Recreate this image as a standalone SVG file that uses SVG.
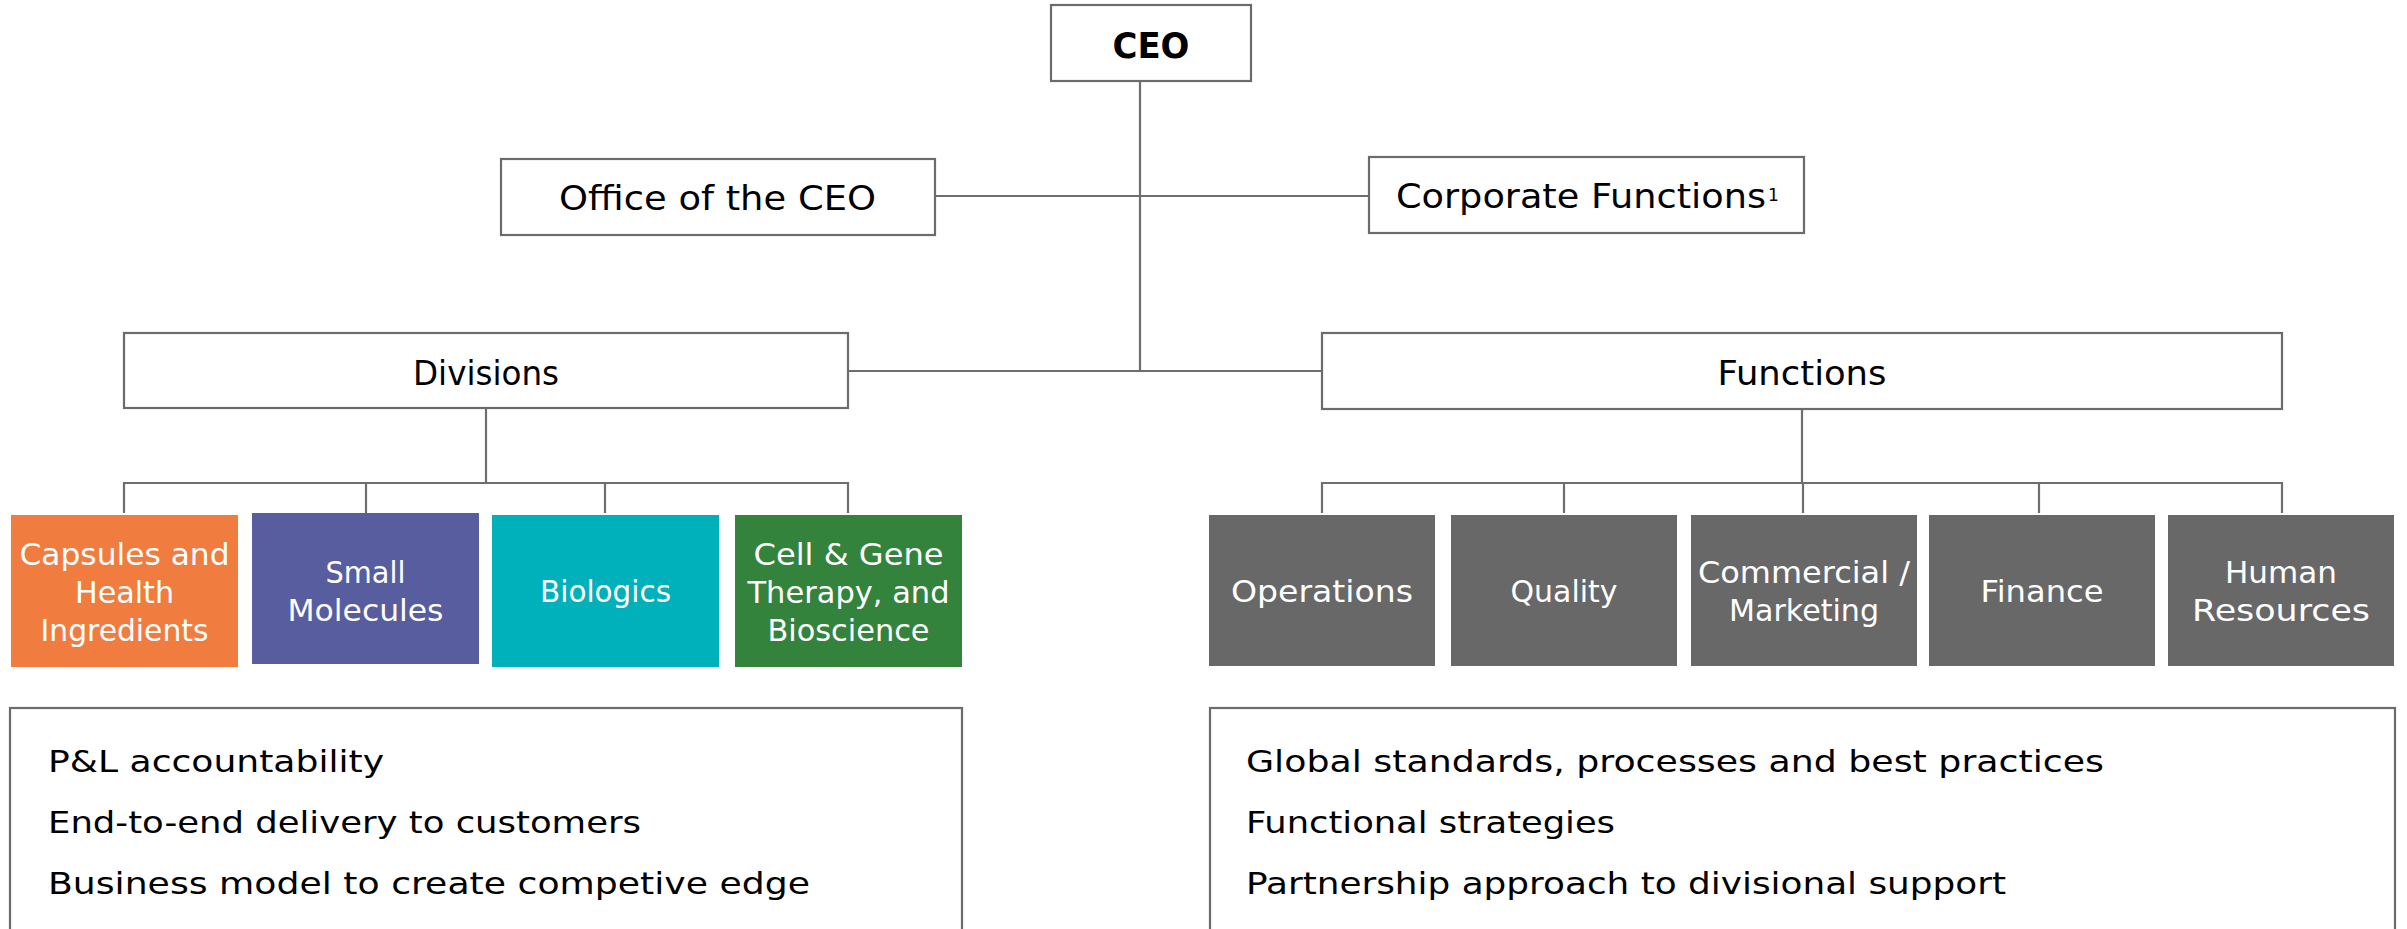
<svg xmlns="http://www.w3.org/2000/svg" width="2407" height="929" viewBox="0 0 2407 929">
  <style>
    .frame { fill: #ffffff; stroke: #6b6b6b; stroke-width: 2.2; }
    .wire { fill: none; stroke: #6e6e6e; stroke-width: 2.2; }
    .t { font-family: "Century Gothic", "DejaVu Sans", sans-serif; fill: #000000; }
    .title { font-size: 33px; text-anchor: middle; }
    .ceo { font-size: 35px; font-weight: bold; text-anchor: middle; }
    .tile { font-family: "Century Gothic", "DejaVu Sans", sans-serif; font-size: 30px; fill: #ffffff; text-anchor: middle; }
    .note { font-size: 30px; }
    .orange { fill: #f07c3f; }
    .purple { fill: #575d9f; }
    .teal { fill: #00b0ba; }
    .green { fill: #34833c; }
    .grey { fill: #686868; }
  </style>

  <!-- reporting lines -->
  <g id="connectors">
    <line class="wire" x1="1140" y1="81" x2="1140" y2="371"/>
    <line class="wire" x1="935" y1="196" x2="1369" y2="196"/>
    <line class="wire" x1="848" y1="371" x2="1322" y2="371"/>
    <!-- divisions branch -->
    <line class="wire" x1="486" y1="408" x2="486" y2="483"/>
    <polyline class="wire" points="124,513 124,483 848,483 848,513"/>
    <line class="wire" x1="366" y1="483" x2="366" y2="513"/>
    <line class="wire" x1="605" y1="483" x2="605" y2="513"/>
    <!-- functions branch -->
    <line class="wire" x1="1802" y1="409" x2="1802" y2="483"/>
    <polyline class="wire" points="1322,513 1322,483 2282,483 2282,513"/>
    <line class="wire" x1="1564" y1="483" x2="1564" y2="513"/>
    <line class="wire" x1="1803" y1="483" x2="1803" y2="513"/>
    <line class="wire" x1="2039" y1="483" x2="2039" y2="513"/>
  </g>

  <g id="ceo">
    <rect class="frame" x="1051" y="5" width="200" height="76"/>
    <text class="t ceo" x="1151" y="58" textLength="77" lengthAdjust="spacingAndGlyphs">CEO</text>
  </g>

  <g id="office-of-ceo">
    <rect class="frame" x="501" y="159" width="434" height="76"/>
    <text class="t title" x="717.5" y="210" textLength="317" lengthAdjust="spacingAndGlyphs">Office of the CEO</text>
  </g>

  <g id="corporate-functions">
    <rect class="frame" x="1369" y="157" width="435" height="76"/>
    <text class="t" x="1396" y="208" font-size="33" textLength="370" lengthAdjust="spacingAndGlyphs">Corporate Functions</text>
    <text class="t" x="1768" y="201" font-size="17">1</text>
  </g>

  <g id="divisions">
    <rect class="frame" x="124" y="333" width="724" height="75"/>
    <text class="t title" x="486" y="385" textLength="146" lengthAdjust="spacingAndGlyphs">Divisions</text>
  </g>

  <g id="functions">
    <rect class="frame" x="1322" y="333" width="960" height="76"/>
    <text class="t title" x="1802" y="385" textLength="169" lengthAdjust="spacingAndGlyphs">Functions</text>
  </g>

  <!-- divisions -->
  <g id="capsules">
    <rect class="orange" x="11" y="515" width="227" height="152"/>
    <text class="tile" x="124.5" y="565" textLength="210" lengthAdjust="spacingAndGlyphs">Capsules and</text>
    <text class="tile" x="124.5" y="603" textLength="99" lengthAdjust="spacingAndGlyphs">Health</text>
    <text class="tile" x="124.5" y="641" textLength="168" lengthAdjust="spacingAndGlyphs">Ingredients</text>
  </g>
  <g id="small-molecules">
    <rect class="purple" x="252" y="513" width="227" height="151"/>
    <text class="tile" x="365.5" y="583" textLength="80" lengthAdjust="spacingAndGlyphs">Small</text>
    <text class="tile" x="365.5" y="621" textLength="156" lengthAdjust="spacingAndGlyphs">Molecules</text>
  </g>
  <g id="biologics">
    <rect class="teal" x="492" y="515" width="227" height="152"/>
    <text class="tile" x="605.5" y="602" textLength="131" lengthAdjust="spacingAndGlyphs">Biologics</text>
  </g>
  <g id="cell-gene">
    <rect class="green" x="735" y="515" width="227" height="152"/>
    <text class="tile" x="848.5" y="565" textLength="190" lengthAdjust="spacingAndGlyphs">Cell &amp; Gene</text>
    <text class="tile" x="848.5" y="603" textLength="202" lengthAdjust="spacingAndGlyphs">Therapy, and</text>
    <text class="tile" x="848.5" y="641" textLength="162" lengthAdjust="spacingAndGlyphs">Bioscience</text>
  </g>

  <!-- functions -->
  <g id="operations">
    <rect class="grey" x="1209" y="515" width="226" height="151"/>
    <text class="tile" x="1322" y="602" textLength="182" lengthAdjust="spacingAndGlyphs">Operations</text>
  </g>
  <g id="quality">
    <rect class="grey" x="1451" y="515" width="226" height="151"/>
    <text class="tile" x="1564" y="602" textLength="107" lengthAdjust="spacingAndGlyphs">Quality</text>
  </g>
  <g id="commercial">
    <rect class="grey" x="1691" y="515" width="226" height="151"/>
    <text class="tile" x="1804" y="583" textLength="212" lengthAdjust="spacingAndGlyphs">Commercial /</text>
    <text class="tile" x="1804" y="621" textLength="150" lengthAdjust="spacingAndGlyphs">Marketing</text>
  </g>
  <g id="finance">
    <rect class="grey" x="1929" y="515" width="226" height="151"/>
    <text class="tile" x="2042" y="602" textLength="123" lengthAdjust="spacingAndGlyphs">Finance</text>
  </g>
  <g id="human-resources">
    <rect class="grey" x="2168" y="515" width="226" height="151"/>
    <text class="tile" x="2281" y="583" textLength="112" lengthAdjust="spacingAndGlyphs">Human</text>
    <text class="tile" x="2281" y="621" textLength="178" lengthAdjust="spacingAndGlyphs">Resources</text>
  </g>

  <!-- role summaries -->
  <g id="divisions-summary">
    <rect class="frame" x="10" y="708" width="952" height="240"/>
    <text class="t note" x="48" y="772" textLength="336" lengthAdjust="spacingAndGlyphs">P&amp;L accountability</text>
    <text class="t note" x="48" y="833" textLength="593" lengthAdjust="spacingAndGlyphs">End-to-end delivery to customers</text>
    <text class="t note" x="48" y="894" textLength="762" lengthAdjust="spacingAndGlyphs">Business model to create competive edge</text>
  </g>
  <g id="functions-summary">
    <rect class="frame" x="1210" y="708" width="1185" height="240"/>
    <text class="t note" x="1246" y="772" textLength="858" lengthAdjust="spacingAndGlyphs">Global standards, processes and best practices</text>
    <text class="t note" x="1246" y="833" textLength="369" lengthAdjust="spacingAndGlyphs">Functional strategies</text>
    <text class="t note" x="1246" y="894" textLength="760" lengthAdjust="spacingAndGlyphs">Partnership approach to divisional support</text>
  </g>
</svg>
